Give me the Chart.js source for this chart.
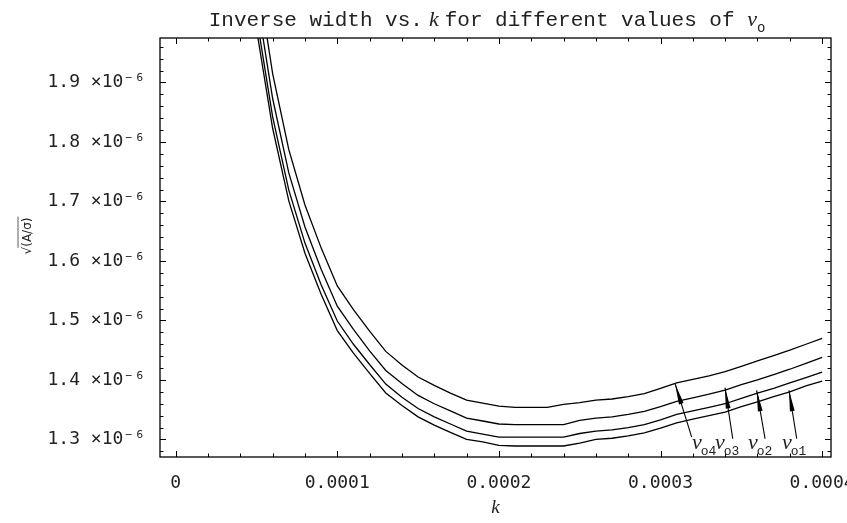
<!DOCTYPE html>
<html>
<head>
<meta charset="utf-8">
<script src="https://cdn.jsdelivr.net/npm/chart.js@4.4.1/dist/chart.umd.min.js"></script>
<style>
  html, body { margin: 0; padding: 0; background: #fff; }
</style>
</head>
<body>
<canvas id="chart" width="847" height="523"></canvas>
<script>
// Inverse width vs. k, four values of v_o
// y values are in units of 1e-6

const kValues = [0.00005, 0.00006, 0.00007, 0.00008, 0.00009, 0.0001, 0.00011, 0.00012,
  0.00013, 0.00014, 0.00015, 0.00016, 0.00017, 0.00018, 0.00019, 0.0002, 0.00021, 0.00022,
  0.00023, 0.00024, 0.00025, 0.00026, 0.00027, 0.00028, 0.00029, 0.0003, 0.00031, 0.00032,
  0.00033, 0.00034, 0.00035, 0.00036, 0.00037, 0.00038, 0.00039, 0.0004];

const vo4 = [2.09, 1.915, 1.787, 1.694, 1.622, 1.558, 1.518, 1.482, 1.448, 1.425, 1.405, 1.391,
  1.378, 1.366, 1.361, 1.356, 1.354, 1.354, 1.354, 1.359, 1.362, 1.366, 1.368, 1.372,
  1.377, 1.386, 1.395, 1.401, 1.407, 1.414, 1.423, 1.432, 1.441, 1.450, 1.460, 1.470];
const vo3 = [2.044, 1.873, 1.748, 1.657, 1.586, 1.524, 1.485, 1.449, 1.416, 1.394, 1.374, 1.360,
  1.348, 1.336, 1.331, 1.326, 1.325, 1.325, 1.325, 1.325, 1.332, 1.336, 1.338, 1.342,
  1.347, 1.355, 1.364, 1.370, 1.376, 1.383, 1.392, 1.400, 1.409, 1.418, 1.428, 1.438];
const vo2 = [2.011, 1.842, 1.719, 1.630, 1.560, 1.499, 1.460, 1.426, 1.393, 1.371, 1.352, 1.338,
  1.326, 1.314, 1.309, 1.304, 1.304, 1.304, 1.304, 1.304, 1.310, 1.314, 1.316, 1.320,
  1.325, 1.333, 1.342, 1.348, 1.354, 1.360, 1.369, 1.378, 1.386, 1.395, 1.404, 1.413];
const vo1 = [1.990, 1.823, 1.701, 1.613, 1.544, 1.483, 1.445, 1.411, 1.378, 1.357, 1.338, 1.324,
  1.312, 1.300, 1.296, 1.290, 1.289, 1.289, 1.289, 1.289, 1.294, 1.300, 1.302, 1.306,
  1.311, 1.319, 1.328, 1.334, 1.340, 1.346, 1.355, 1.363, 1.372, 1.380, 1.390, 1.398];

const seriesNames = ['v_o1', 'v_o2', 'v_o3', 'v_o4'];
const seriesValues = [vo1, vo2, vo3, vo4];

const xTicks = [0, 0.0001, 0.0002, 0.0003, 0.0004];
const yTicks = [1.3, 1.4, 1.5, 1.6, 1.7, 1.8, 1.9];

// arrow labels, in data coords (k, y*1e6)
const arrowSubs  = ['4', '3', '2', '1'];
const arrowTipK  = [0.0003090, 0.0003399, 0.0003595, 0.0003795];
const arrowTipV  = [1.3938, 1.3871, 1.3825, 1.3825];
const arrowTailK = [0.0003193, 0.0003447, 0.0003647, 0.0003843];
const arrowTailV = [1.3039, 1.3012, 1.3012, 1.3012];
const labelK     = [0.0003195, 0.0003337, 0.0003541, 0.0003752];
const labelV     = 1.2832;

const MONO = '"Liberation Mono", "DejaVu Sans Mono", monospace';
const SERIF = '"Liberation Serif", "DejaVu Serif", serif';

function drawArrow(ctx, x0, y0, x1, y1) {
  ctx.beginPath();
  ctx.moveTo(x0, y0);
  ctx.lineTo(x1, y1);
  ctx.stroke();
  const a = Math.atan2(y1 - y0, x1 - x0);
  const L = 21, w = 2.4;
  const bx = x1 - L * Math.cos(a), by = y1 - L * Math.sin(a);
  ctx.beginPath();
  ctx.moveTo(x1, y1);
  ctx.lineTo(bx + w * Math.sin(a), by - w * Math.cos(a));
  ctx.lineTo(bx - w * Math.sin(a), by + w * Math.cos(a));
  ctx.closePath();
  ctx.fill();
}

function drawParts(ctx, parts, cx, baseY) {
  let total = 0;
  parts.forEach(p => { ctx.font = p.f; p.w = ctx.measureText(p.t).width; total += p.w + (p.gap || 0); });
  let x = cx - total / 2;
  parts.forEach(p => {
    ctx.font = p.f;
    ctx.fillText(p.t, x, baseY + (p.dy || 0));
    x += p.w + (p.gap || 0);
  });
}

const decor = {
  id: 'decor',
  afterDraw(chart) {
    const { ctx, chartArea: a } = chart;
    const x = chart.scales.x, y = chart.scales.y;
    ctx.save();
    ctx.strokeStyle = '#000';
    ctx.fillStyle = '#000';
    ctx.lineWidth = 1.3;
    ctx.strokeRect(a.left, a.top, a.right - a.left, a.bottom - a.top);

    // inward ticks on all four sides
    ctx.lineWidth = 1;
    ctx.beginPath();
    for (let i = -1; i <= 21; i++) {
      const v = i * 0.00002;
      if (v < x.min || v > x.max) continue;
      const px = Math.round(x.getPixelForValue(v)) + 0.5;
      const len = i % 5 === 0 ? 6 : 3.5;
      ctx.moveTo(px, a.bottom); ctx.lineTo(px, a.bottom - len);
      ctx.moveTo(px, a.top); ctx.lineTo(px, a.top + len);
    }
    for (let i = 63; i <= 99; i++) {
      const v = i / 50;
      if (v < y.min || v > y.max) continue;
      const py = Math.round(y.getPixelForValue(v)) + 0.5;
      const len = i % 5 === 0 ? 6 : 3.5;
      ctx.moveTo(a.left, py); ctx.lineTo(a.left + len, py);
      ctx.moveTo(a.right, py); ctx.lineTo(a.right - len, py);
    }
    ctx.stroke();

    // arrows and v_o labels
    ctx.lineWidth = 1.1;
    arrowSubs.forEach((s, i) => {
      drawArrow(ctx,
        x.getPixelForValue(arrowTailK[i]), y.getPixelForValue(arrowTailV[i]),
        x.getPixelForValue(arrowTipK[i]), y.getPixelForValue(arrowTipV[i]));
      const lx = x.getPixelForValue(labelK[i]);
      const ly = y.getPixelForValue(labelV);
      ctx.fillStyle = '#222';
      ctx.font = 'italic 22px ' + SERIF;
      ctx.fillText('v', lx, ly);
      const vw = ctx.measureText('v').width;
      ctx.font = '13px ' + MONO;
      ctx.fillText('o' + s, lx + vw - 1, ly + 6);
      ctx.fillStyle = '#000';
    });

    // title
    ctx.fillStyle = '#222';
    ctx.textBaseline = 'alphabetic';
    drawParts(ctx, [
      { t: 'Inverse width vs.', f: '21px ' + MONO, gap: 6 },
      { t: 'k', f: 'italic 22px ' + SERIF, gap: 6 },
      { t: 'for different values of ', f: '21px ' + MONO },
      { t: 'v', f: 'italic 22px ' + SERIF },
      { t: 'o', f: '14px ' + MONO, dy: 6 }
    ], 487, 26);

    // y axis label, rotated
    ctx.save();
    ctx.translate(27, 236);
    ctx.rotate(-Math.PI / 2);
    ctx.font = '12px "DejaVu Sans", sans-serif';
    const rad = '\u221A', body = '(A/\u03C3)';
    const wr = ctx.measureText(rad).width, wb = ctx.measureText(body).width;
    const sx = -(wr + wb) / 2;
    ctx.fillText(rad, sx, 4);
    ctx.fillText(body, sx + wr, 4);
    ctx.lineWidth = 0.8;
    ctx.strokeStyle = '#333';
    ctx.beginPath();
    ctx.moveTo(sx + wr - 1, -9);
    ctx.lineTo(sx + wr + wb + 1, -9);
    ctx.stroke();
    ctx.restore();

    ctx.restore();
  }
};

new Chart(document.getElementById('chart'), {
  type: 'line',
  data: {
    datasets: seriesValues.map((vals, i) => ({
      label: seriesNames[i],
      data: kValues.map((k, j) => ({ x: k, y: vals[j] })),
      borderColor: '#000',
      borderWidth: 1.3,
      pointRadius: 0,
      fill: false,
      tension: 0
    }))
  },
  options: {
    responsive: false,
    animation: false,
    layout: { padding: { left: 0, top: 38, right: 16, bottom: 0 } },
    plugins: { legend: { display: false }, tooltip: { enabled: false } },
    scales: {
      x: {
        type: 'linear',
        min: -0.0000097,
        max: 0.0004055,
        grid: { display: false, drawTicks: false },
        border: { display: false },
        afterBuildTicks: s => { s.ticks = xTicks.map(v => ({ value: v })); },
        afterFit: s => { s.height = 66; s.paddingLeft = 0; s.paddingRight = 0; },
        ticks: {
          autoSkip: false, maxRotation: 0, padding: 16, color: '#222',
          font: { family: '"DejaVu Sans Mono"', size: 18 },
          callback: v => (v === 0 ? '0' : v.toFixed(4))
        },
        title: {
          display: true, text: 'k', color: '#222',
          font: { family: SERIF, style: 'italic', size: 19 },
          padding: { top: 0, bottom: 4 }
        }
      },
      y: {
        type: 'linear',
        min: 1.2705,
        max: 1.9747,
        grid: { display: false, drawTicks: false },
        border: { display: false },
        afterBuildTicks: s => { s.ticks = yTicks.map(v => ({ value: v })); },
        afterFit: s => { s.width = 160; s.paddingTop = 0; s.paddingBottom = 0; },
        ticks: {
          autoSkip: false, padding: 15, color: '#222',
          font: { family: '"DejaVu Sans Mono"', size: 18 },
          callback: v => v.toFixed(1) + ' \u00D710\u207B\u2076'
        }
      }
    }
  },
  plugins: [decor]
});
</script>
</body>
</html>
